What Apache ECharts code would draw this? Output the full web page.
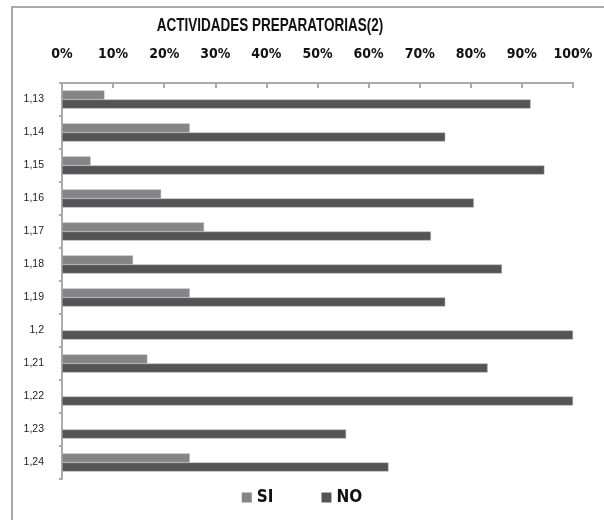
<!DOCTYPE html>
<html><head><meta charset="utf-8">
<script src="https://cdn.jsdelivr.net/npm/echarts@6/dist/echarts.min.js"></script>
<style>html,body{margin:0;padding:0;background:#fff}#c{width:604px;height:520px}</style>
</head><body><div id="c"></div>
<script>
const categories = ['1,13','1,14','1,15','1,16','1,17','1,18','1,19','1,2','1,21','1,22','1,23','1,24'];
const siValues = [8.3, 25, 5.6, 19.4, 27.8, 13.9, 25, 0, 16.7, 0, 0, 25];
const noValues = [91.7, 75, 94.4, 80.6, 72.2, 86.1, 75, 100, 83.3, 100, 55.6, 63.9];
const xTicks = [0,10,20,30,40,50,60,70,80,90,100];
const titleText = 'ACTIVIDADES PREPARATORIAS(2)';
const FONT = '"DejaVu Sans Condensed","Liberation Sans",Arial,sans-serif';
const chart = echarts.init(document.getElementById('c'), null, {renderer:'canvas'});
chart.setOption({
  animation:false,
  backgroundColor:'#fff',
  legend:{bottom:9, left:'center', itemWidth:10, itemHeight:10, itemGap:48, icon:'rect',
    itemStyle:{borderWidth:0},
    textStyle:{fontFamily:FONT, fontWeight:'bold', fontSize:17, color:'#111'},
    data:['SI','NO']},
  grid:{left:62, right:31, top:83, bottom:41, containLabel:false},
  xAxis:{type:'value', position:'top', min:xTicks[0], max:xTicks[xTicks.length-1], interval:10,
    axisLine:{show:true, lineStyle:{color:'#aaa', width:2}},
    axisTick:{show:true, inside:true, length:5, lineStyle:{color:'#aaa', width:2}},
    splitLine:{show:false},
    axisLabel:{formatter:v=>v+'%', margin:22, fontFamily:FONT, fontWeight:'bold', fontSize:14, color:'#111'}},
  yAxis:{type:'category', data:categories, inverse:true,
    axisLine:{show:true, lineStyle:{color:'#aaa', width:2}},
    axisTick:{show:true, length:3, lineStyle:{color:'#aaa', width:2}},
    axisLabel:{margin:18, fontFamily:'"Liberation Sans",Arial,sans-serif', fontSize:10.5, color:'#222'}},
  series:[
    {name:'SI', type:'bar', data:siValues, barGap:'0%', barCategoryGap:'45%',
      itemStyle:{color:'#858585', borderColor:'#b5b5b5', borderWidth:0.5}},
    {name:'NO', type:'bar', data:noValues, barGap:'0%', barCategoryGap:'45%',
      itemStyle:{color:'#545456', borderColor:'#b5b5b5', borderWidth:0.5}}
  ],
  graphic:[
    {type:'polyline', shape:{points:[[12,520],[12,7],[604,7]]}, style:{stroke:'#aaa', lineWidth:2, fill:null}},
    {type:'text', x:270, y:26, scaleX:0.75, style:{text:titleText, align:'center', verticalAlign:'middle',
      font:'bold 18px "Liberation Sans",Arial,sans-serif', fill:'#111'}}
  ]
});
</script></body></html>
